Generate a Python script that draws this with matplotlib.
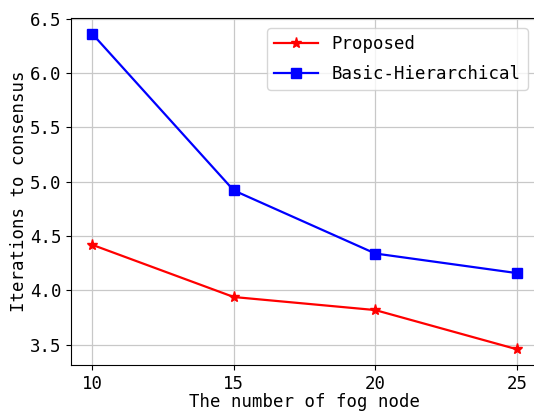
import matplotlib
matplotlib.use("Agg")
import matplotlib.pyplot as plt

# data
fog_nodes = [10, 15, 20, 25]
proposed = [4.42, 3.94, 3.82, 3.46]
basic_hier = [6.36, 4.92, 4.34, 4.16]

plt.rcParams['font.family'] = ['DejaVu Sans Mono']
plt.rcParams['font.size'] = 12.5

fig = plt.figure(figsize=(5.34, 4.12), dpi=100)
ax = fig.add_axes([71/534, 47/412, 467/534, 347/412])

ax.plot(fog_nodes, proposed, color='red', marker='*', markersize=8, linewidth=1.6, label='Proposed')
ax.plot(fog_nodes, basic_hier, color='blue', marker='s', markersize=6.5, linewidth=1.6, label='Basic-Hierarchical')

ax.set_xticks(fog_nodes)
ax.set_yticks([3.5, 4.0, 4.5, 5.0, 5.5, 6.0, 6.5])
ax.grid(True, color='#c8c8c8', linewidth=0.9)
ax.set_axisbelow(True)

ax.set_xlabel('The number of fog node', labelpad=0)
ax.set_ylabel('Iterations to consensus', labelpad=1.5)
ax.legend(loc='upper right', handlelength=2.5, labelspacing=0.65, borderaxespad=0.6)

fig.savefig('out.png', dpi=100)
